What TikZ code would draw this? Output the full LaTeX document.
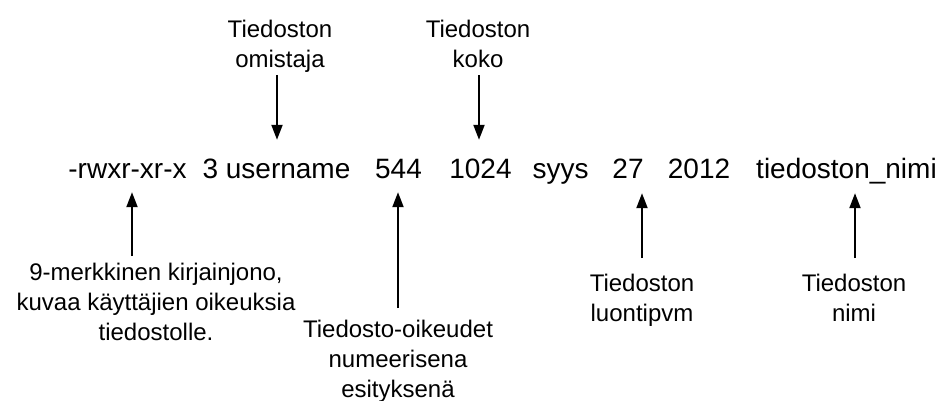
\documentclass[tikz,border=0pt]{standalone}
\usepackage{fontspec}
\setmainfont{Liberation Sans}
\usetikzlibrary{arrows.meta}
\begin{document}
\begin{tikzpicture}[x=1pt,y=-1pt,
  tok/.style={inner sep=0pt, anchor=base, font=\fontsize{28}{34}\selectfont,
              text height=20pt, text depth=0pt},
  lbl/.style={inner sep=0pt, anchor=north, align=center,
              font=\fontsize{24}{30}\selectfont},
  arr/.style={-{Triangle[length=15pt,width=11pt]}, line width=2pt}]
\useasboundingbox (0,0) rectangle (939,401);

% the listing line
\node[tok] (perm)  at (127.5,178) {-rwxr-xr-x};
\node[tok] (user)  at (276.5,178) {3 username};
\node[tok] (oct)   at (398.5,178) {544};
\node[tok] (size)  at (480.5,178) {1024};
\node[tok] (month) at (560.5,178) {syys};
\node[tok] (day)   at (628,178)   {27};
\node[tok] (year)  at (699,178)   {2012};
\node[tok] (fname) at (846.5,178) {tiedoston\_nimi};

% labels above
\node[lbl] (owner) at (280,20)  {Tiedoston\\omistaja};
\node[lbl] (koko)  at (478,20)  {Tiedoston\\koko};

% labels below
\node[lbl] (perms)  at (156,263) {9-merkkinen kirjainjono,\\kuvaa käyttäjien oikeuksia\\tiedostolle.};
\node[lbl] (octal)  at (398,320) {Tiedosto-oikeudet\\numeerisena\\esityksenä};
\node[lbl] (date)   at (642,274) {Tiedoston\\luontipvm};
\node[lbl] (nimi)   at (854,274) {Tiedoston\\nimi};

% arrows from the labels to the fields
\draw[arr, shorten <=2pt, shorten >=18pt] ([xshift=-3pt]owner.south) -- ([xshift=-3pt]owner.south |- user.north);
\draw[arr, shorten <=7pt, shorten >=18pt] ([xshift=1pt]koko.south) -- ([xshift=1pt]koko.south |- size.north);

\coordinate (pa) at ([xshift=-24pt]perms.north);
\draw[arr, shorten <=7pt, shorten >=14pt] (pa) -- (pa |- perm.south);
\draw[arr, shorten <=12pt, shorten >=14pt] (octal.north) -- (octal.north |- oct.south);
\draw[arr, shorten <=16pt, shorten >=15pt] (date.north) -- (date.north |- day.south);
\draw[arr, shorten <=16pt, shorten >=15pt] ([xshift=1pt]nimi.north) -- ([xshift=1pt]nimi.north |- fname.south);
\end{tikzpicture}
\end{document}
